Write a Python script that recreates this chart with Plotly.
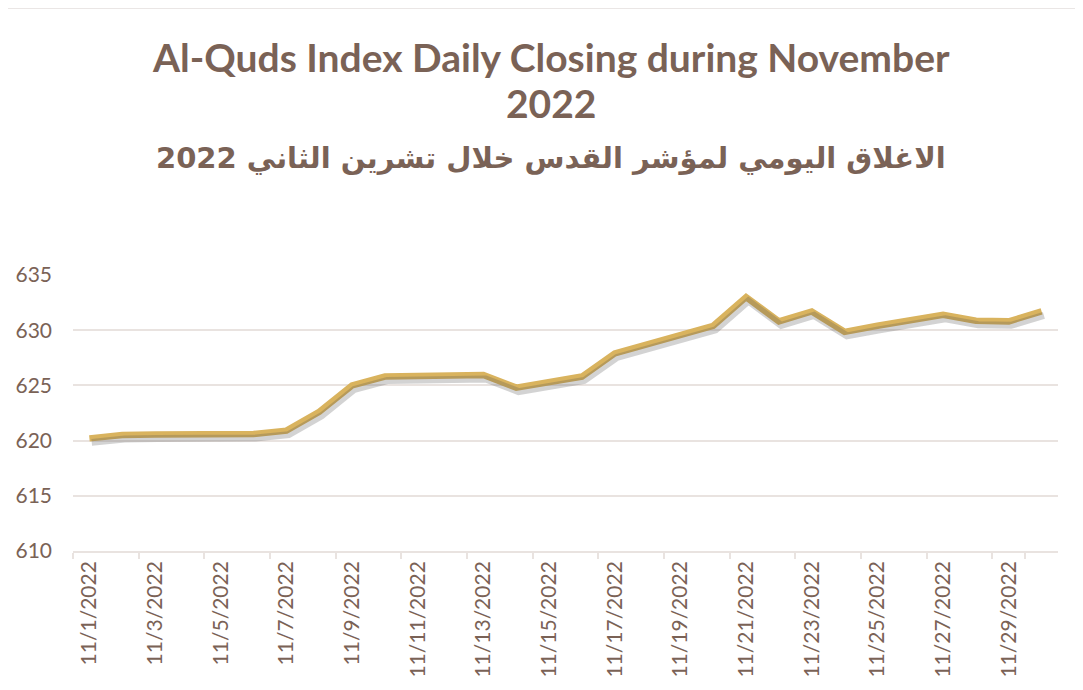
import plotly.graph_objects as go

dates = [f"11/{d}/2022" for d in range(1, 31)]
closing = [620.2, 620.5, 620.55, 620.55, 620.6, 620.6, 620.9, 622.6, 625.0, 625.8,
           625.85, 625.9, 625.95, 624.8, 625.3, 625.8, 627.9, 628.7, 629.6, 630.4,
           633.0, 630.8, 631.7, 629.85, 630.4, 630.9, 631.4, 630.85, 630.8, 631.7]
tick_labels = dates[::2]
y_ticks = [610, 615, 620, 625, 630, 635]

title_en_1 = "Al-Quds Index Daily Closing during November"
title_en_2 = "2022"
title_ar = "الاغلاق اليومي لمؤشر القدس خلال تشرين الثاني 2022"

TXT = "#7a6256"
GRID = "#e9e3e0"
LINE = "#d9b35e"
FONT = "Lato, Carlito, sans-serif"

fig = go.Figure()
# soft shadow drawn on an offset overlay axis
fig.add_trace(go.Scatter(x=dates, y=closing, mode="lines", xaxis="x2", yaxis="y2",
                         line=dict(color="rgba(80,80,80,0.25)", width=7),
                         hoverinfo="skip", showlegend=False))
fig.add_trace(go.Scatter(x=dates, y=closing, mode="lines",
                         line=dict(color=LINE, width=6.5), showlegend=False))

fig.update_layout(
    width=1075, height=682,
    paper_bgcolor="white", plot_bgcolor="white",
    margin=dict(l=65, r=25, t=267, b=139),
    xaxis=dict(type="category", categoryorder="array", categoryarray=dates,
               range=[-0.5, 29.5], tickmode="array", tickvals=tick_labels,
               ticktext=tick_labels, tickangle=-90, tickson="boundaries",
               ticks="outside", ticklen=6, tickcolor=GRID, tickwidth=1.5,
               showgrid=False, showline=True, linecolor=GRID, linewidth=1.5,
               automargin=False,
               tickfont=dict(family=FONT, size=21, color=TXT),
               zeroline=False),
    yaxis=dict(range=[610, 635], tickvals=y_ticks, showgrid=True, gridcolor=GRID,
               gridwidth=1.5, showline=False, zeroline=False, ticks="",
               ticklabelstandoff=20, automargin=False,
               tickfont=dict(family=FONT, size=21, color=TXT)),
    xaxis2=dict(type="category", categoryorder="array", categoryarray=dates,
                range=[-0.5 - 0.07, 29.5 - 0.07], overlaying="x", visible=False),
    yaxis2=dict(range=[610 + 0.36, 635 + 0.36], overlaying="y", visible=False),
    shapes=[dict(type="rect", xref="paper", yref="paper", x0=-0.068, x1=1.0203,
                 y0=-0.6, y1=1.967, line=dict(color="#dcd6d3", width=1))],
)
fig.add_annotation(text="<b>" + title_en_1 + "</b>",
                   xref="paper", yref="paper", x=0.485, y=1.0, yshift=218,
                   xanchor="center", yanchor="middle", showarrow=False,
                   font=dict(family=FONT, size=39, color=TXT))
fig.add_annotation(text="<b>" + title_en_2 + "</b>", xref="paper", yref="paper",
                   x=0.485, y=1.0, yshift=172, xanchor="center", yanchor="middle",
                   showarrow=False, font=dict(family=FONT, size=39, color=TXT))
fig.add_annotation(text="<b>" + title_ar + "</b>", xref="paper", yref="paper",
                   x=0.485, y=1.0, yshift=117, xanchor="center", yanchor="middle",
                   showarrow=False,
                   font=dict(family="DejaVu Sans, sans-serif", size=29, color=TXT))

fig.write_html("out.html")
